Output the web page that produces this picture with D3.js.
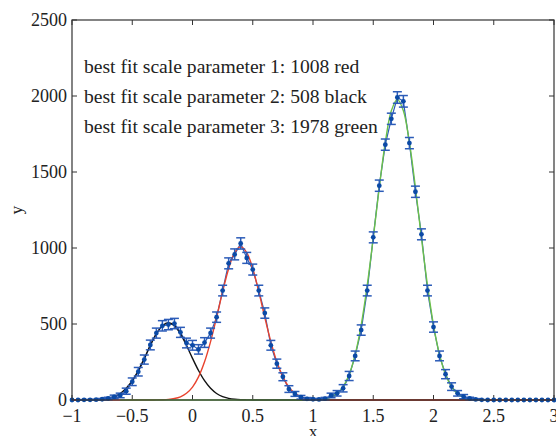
<!DOCTYPE html>
<html>
<head>
<meta charset="utf-8">
<script src="https://cdn.jsdelivr.net/npm/d3@7"></script>
<style>
  body { margin: 0; background: #fff; }
  svg text { font-family: "Liberation Serif", "DejaVu Serif", serif; fill: #222; }
</style>
</head>
<body>
<svg width="556" height="436"></svg>
<script>
// DATA
const xs = [-1.00,-0.95,-0.90,-0.85,-0.80,-0.75,-0.70,-0.65,-0.60,-0.55,-0.50,-0.45,-0.40,-0.35,-0.30,-0.25,-0.20,-0.15,-0.10,-0.05,
            0.00,0.05,0.10,0.15,0.20,0.25,0.30,0.35,0.40,0.45,0.50,0.55,0.60,0.65,0.70,0.75,0.80,0.85,0.90,0.95,
            1.00,1.05,1.10,1.15,1.20,1.25,1.30,1.35,1.40,1.45,1.50,1.55,1.60,1.65,1.70,1.75,1.80,1.85,1.90,1.95,
            2.00,2.05,2.10,2.15,2.20,2.25,2.30,2.35,2.40,2.45,2.50,2.55,2.60,2.65,2.70,2.75,2.80,2.85,2.90,2.95,3.00];

const counts = [0,0,1,1,2,5,10,20,30,58,120,186,266,362,440,488,496,503,445,375,
                360,333,378,440,545,720,899,958,1030,935,858,720,572,360,239,153,72,40,18,8,
                5,4,9,30,44,77,158,290,460,720,1070,1410,1680,1850,1990,1965,1690,1370,1090,720,
                480,290,170,88,44,22,10,4,1,0,0,0,0,0,0,0,0,0,0,0,0];

const errs = [0,0,2,2,3,5,8,12,15,20,25,28,30,32,33,34,34,34,33,32,
              32,31,32,33,34,35,36,36,37,36,36,35,34,32,30,26,22,16,12,8,
              5,5,8,15,18,24,30,32,34,35,36,37,37,37,38,38,37,37,36,35,
              34,32,30,25,18,14,8,5,2,0,0,0,0,0,0,0,0,0,0,0,0];

// fitted curves, sampled on xs
const blackFit = [0,0.1,0.3,0.8,2,5,11,22,43,77,127,194,274,359,435,489,508,489,435,359,
                  274,194,127,77,43,22,11,5,2,1,0.3,0,0,0,0,0,0,0,0,0,
                  0,0,0,0,0,0,0,0,0,0,0,0,0,0,0,0,0,0,0,0,
                  0,0,0,0,0,0,0,0,0,0,0,0,0,0,0,0,0,0,0,0,0];

const redFit = [0,0,0,0,0,0,0,0,0,0,0,0,0,0,0.5,1.5,3.9,9.5,21,44,
                85,152,251,384,543,713,864,970,1008,970,864,713,543,384,251,152,85,44,21,9.5,
                3.9,1.5,0.5,0,0,0,0,0,0,0,0,0,0,0,0,0,0,0,0,0,
                0,0,0,0,0,0,0,0,0,0,0,0,0,0,0,0,0,0,0,0,0];

// green fit drawn from x = -0.60 up to x = 2.40
const greenX0 = 8;
const greenFit = [0,0,0,0,0,0,0,0,0,0,0,0,
                  0,0,0,0,0,0,0,0,0,0,0,0,0,0,0,0,0,0,0,0.3,
                  1,2.9,7.6,18.6,41.7,87,168,299,493,754,1066,1398,1695,1903,1978,1903,1695,1398,1066,754,
                  493,299,168,87,41.7,18.6,7.6,2.9,1];

const xTicks = [-1,-0.5,0,0.5,1,1.5,2,2.5,3];
const yTicks = [0,500,1000,1500,2000,2500];

const notes = ['best fit scale parameter 1: 1008 red',
               'best fit scale parameter 2: 508 black',
               'best fit scale parameter 3: 1978 green'];

// CHART
const svg = d3.select('svg');
const padL = 72, padR = 554, padT = 20, padB = 400;

const xScale = d3.scaleLinear().domain([-1, 3]).range([padL, padR]);
const yScale = d3.scaleLinear().domain([0, 2500]).range([padB, padT]);

const axisCol = '#333';
const fmt = d => d3.format('')(d).replace('-', '\u2212');

// ticks (inward, on all four sides)
const gAx = svg.append('g');
xTicks.forEach(t => {
  gAx.append('line').attr('x1', xScale(t)).attr('x2', xScale(t))
     .attr('y1', padB).attr('y2', padB - 5).attr('stroke', axisCol);
  gAx.append('line').attr('x1', xScale(t)).attr('x2', xScale(t))
     .attr('y1', padT).attr('y2', padT + 5).attr('stroke', axisCol);
  gAx.append('text').attr('x', xScale(t)).attr('y', 422)
     .attr('text-anchor', 'middle').attr('font-size', 18).text(fmt(t));
});
yTicks.forEach(t => {
  gAx.append('line').attr('x1', padL).attr('x2', padL + 5)
     .attr('y1', yScale(t)).attr('y2', yScale(t)).attr('stroke', axisCol);
  gAx.append('line').attr('x1', padR).attr('x2', padR - 5)
     .attr('y1', yScale(t)).attr('y2', yScale(t)).attr('stroke', axisCol);
  gAx.append('text').attr('x', 67).attr('y', yScale(t) + 6)
     .attr('text-anchor', 'end').attr('font-size', 18).text(fmt(t));
});

// data line first
const pts = xs.map((x, i) => ({x: x, y: counts[i], e: errs[i]}));
const blue = '#2c5cb8';

svg.append('path')
  .attr('d', d3.line().x(d => xScale(d.x)).y(d => yScale(d.y))(pts))
  .attr('fill', 'none')
  .attr('stroke', blue)
  .attr('stroke-width', 1.2);

// fit curves
const fitLine = d3.line()
  .x(d => xScale(d[0]))
  .y(d => yScale(d[1]))
  .curve(d3.curveCatmullRom);

const curves = [
  {vals: blackFit, start: 0, col: '#111'},
  {vals: redFit, start: 0, col: '#e8432e'},
  {vals: greenFit, start: greenX0, col: '#6cc04a'}
];
curves.forEach(c => {
  svg.append('path')
    .attr('d', fitLine(c.vals.map((v, i) => [xs[i + c.start], v])))
    .attr('fill', 'none')
    .attr('stroke', c.col)
    .attr('stroke-width', 1.4);
});

// error bars and markers
const gErr = svg.append('g').attr('stroke', blue).attr('stroke-width', 1.5);
pts.filter(d => d.e > 0).forEach(d => {
  const cx = xScale(d.x), y1 = yScale(d.y - d.e), y2 = yScale(d.y + d.e);
  gErr.append('line').attr('x1', cx).attr('x2', cx).attr('y1', y1).attr('y2', y2);
  gErr.append('line').attr('x1', cx - 4.5).attr('x2', cx + 4.5).attr('y1', y1).attr('y2', y1);
  gErr.append('line').attr('x1', cx - 4.5).attr('x2', cx + 4.5).attr('y1', y2).attr('y2', y2);
});

svg.append('g').selectAll('circle')
  .data(pts)
  .enter().append('circle')
  .attr('cx', d => xScale(d.x))
  .attr('cy', d => yScale(d.y))
  .attr('r', 2.4)
  .attr('fill', '#0b4aa6');

// box
svg.append('rect')
  .attr('x', padL).attr('y', padT)
  .attr('width', padR - padL).attr('height', padB - padT)
  .attr('fill', 'none').attr('stroke', axisCol).attr('stroke-width', 1.2);

// annotations
notes.forEach((n, i) => {
  svg.append('text').attr('x', 84).attr('y', 73 + i * 30)
     .attr('font-size', 19.6).text(n);
});

// axis labels
svg.append('text').attr('x', 313).attr('y', 437)
   .attr('text-anchor', 'middle').attr('font-size', 17.5).text('x');
svg.append('text')
   .attr('transform', 'translate(22,210) rotate(-90)')
   .attr('text-anchor', 'middle').attr('font-size', 17.5).text('y');
</script>
</body>
</html>
